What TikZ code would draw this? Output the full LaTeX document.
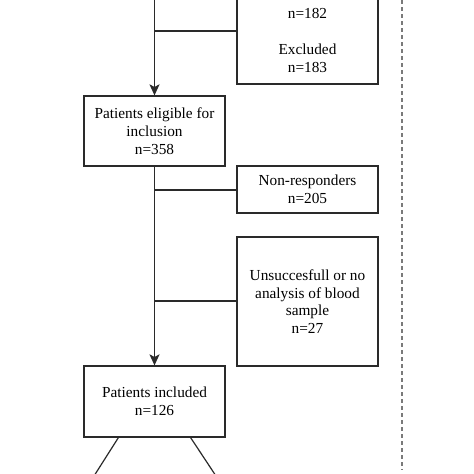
\documentclass[tikz,border=0pt]{standalone}
\usepackage{fontspec}
\setmainfont{Liberation Serif}
\usetikzlibrary{arrows.meta}
\definecolor{ln}{HTML}{2A2A2A}
\definecolor{dsh}{HTML}{7A7A7A}
\begin{document}
\begin{tikzpicture}[x=1pt,y=1pt,
  box/.style={draw=ln,line width=1.2pt,minimum width=141pt,align=center,inner sep=0pt,
    font=\fontsize{15.3}{17.7}\selectfont,text=black},
  conn/.style={draw=ln,line width=1.2pt},
  arr/.style={conn,-{Stealth[length=11pt,width=10pt,inset=2.5pt]}}]
\clip (0,0) rectangle (474,-474);
\node[box,minimum height=87pt] (excl) at (307.5,-40.5) {n=182\\[17.7pt]Excluded\\n=183};
\node[box,minimum height=70pt] (elig) at (154.5,-131) {Patients eligible for\\inclusion\\n=358};
\node[box,minimum height=47pt] (nonr) at (307.5,-189.5) {Non-responders\\n=205};
\node[box,minimum height=129pt] (unsu) at (307.5,-301.5) {Unsuccesfull or no\\analysis of blood\\sample\\n=27};
\node[box,minimum height=71pt] (incl) at (154.5,-401.5) {Patients included\\n=126};
\coordinate (top) at (154.5,5);
\coordinate (dl) at (94,-476);
\coordinate (dr) at (216,-476);
\coordinate (dtop) at (402,0);
\coordinate (dbot) at (402,-470);
\draw[arr] (top) -- (elig.north);
\draw[conn] (top |- 0,-31) -- (excl.west |- 0,-31);
\draw[arr] (elig.south) -- (incl.north);
\draw[conn] (elig.south |- 0,-190) -- (nonr.west |- 0,-190);
\draw[conn] (elig.south |- 0,-301) -- (unsu.west |- 0,-301);
\draw[conn] (incl.south west) ++(35,0) coordinate (il) -- (dl);
\draw[conn] (incl.south east) ++(-35,0) coordinate (ir) -- (dr);
\draw[dsh,line width=1.3pt,dash pattern=on 4pt off 3pt] (dtop) -- (dbot);
\end{tikzpicture}
\end{document}
